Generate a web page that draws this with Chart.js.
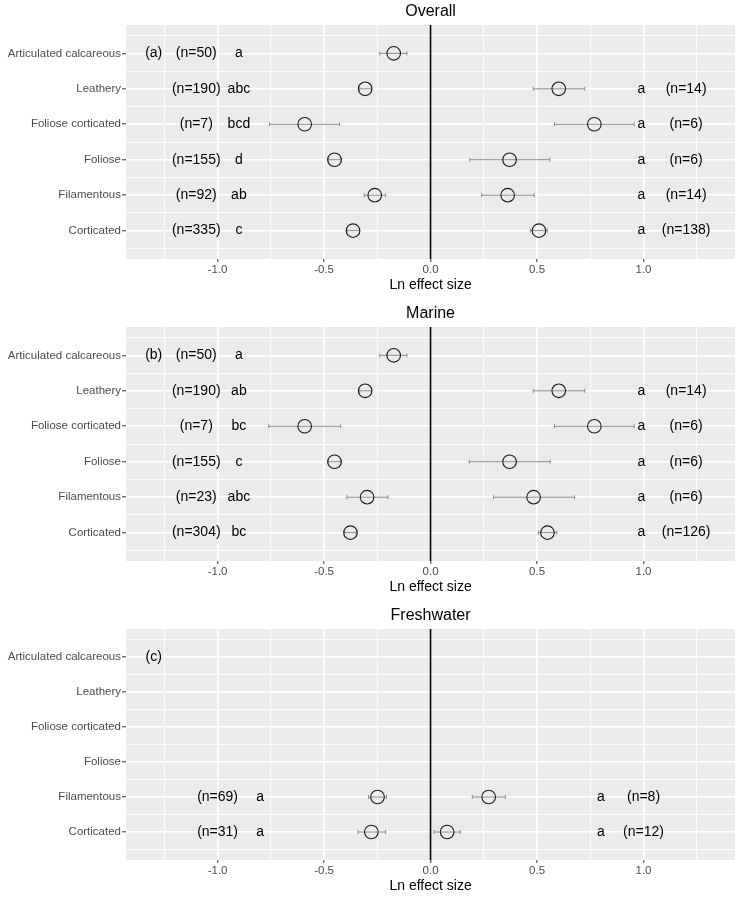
<!DOCTYPE html>
<html>
<head>
<meta charset="utf-8">
<script src="https://cdn.jsdelivr.net/npm/chart.js@4.4.1/dist/chart.umd.min.js"></script>
<style>
  body { margin: 0; background: #fff; width: 743px; height: 898px; overflow: hidden; }
  .panel { position: relative; width: 743px; }
</style>
</head>
<body>
<div class="panel" style="height:300px"><canvas id="c1"></canvas></div>
<div class="panel" style="height:300px"><canvas id="c2"></canvas></div>
<div class="panel" style="height:298px"><canvas id="c3"></canvas></div>
<script>
// categories, top to bottom
const categories = ["Articulated calcareous", "Leathery", "Foliose corticated", "Foliose", "Filamentous", "Corticated"];
const xTicks = [-1.25, -1.0, -0.75, -0.5, -0.25, 0, 0.25, 0.5, 0.75, 1.0, 1.25];

// (a) Overall
const overallNegMean = [-0.173, -0.307, -0.591, -0.451, -0.262, -0.364];
const overallNegLo   = [-0.238, -0.333, -0.756, -0.482, -0.311, -0.393];
const overallNegHi   = [-0.111, -0.278, -0.427, -0.418, -0.211, -0.333];
const overallPosMean = [null, 0.602, 0.769, 0.371, 0.362, 0.509];
const overallPosLo   = [null, 0.482, 0.582, 0.184, 0.240, 0.469];
const overallPosHi   = [null, 0.724, 0.956, 0.560, 0.487, 0.549];
const overallNegN      = ["(n=50)", "(n=190)", "(n=7)", "(n=155)", "(n=92)", "(n=335)"];
const overallNegLetter = ["a", "abc", "bcd", "d", "ab", "c"];
const overallPosLetter = [null, "a", "a", "a", "a", "a"];
const overallPosN      = [null, "(n=14)", "(n=6)", "(n=6)", "(n=14)", "(n=138)"];

// (b) Marine
const marineNegMean = [-0.173, -0.307, -0.591, -0.451, -0.298, -0.376];
const marineNegLo   = [-0.238, -0.333, -0.760, -0.482, -0.393, -0.404];
const marineNegHi   = [-0.111, -0.278, -0.422, -0.418, -0.200, -0.349];
const marinePosMean = [null, 0.602, 0.769, 0.371, 0.484, 0.549];
const marinePosLo   = [null, 0.482, 0.582, 0.182, 0.296, 0.507];
const marinePosHi   = [null, 0.724, 0.956, 0.562, 0.676, 0.593];
const marineNegN      = ["(n=50)", "(n=190)", "(n=7)", "(n=155)", "(n=23)", "(n=304)"];
const marineNegLetter = ["a", "ab", "bc", "c", "abc", "bc"];
const marinePosLetter = [null, "a", "a", "a", "a", "a"];
const marinePosN      = [null, "(n=14)", "(n=6)", "(n=6)", "(n=6)", "(n=126)"];

// (c) Freshwater
const freshNegMean = [null, null, null, null, -0.249, -0.278];
const freshNegLo   = [null, null, null, null, -0.291, -0.340];
const freshNegHi   = [null, null, null, null, -0.207, -0.211];
const freshPosMean = [null, null, null, null, 0.273, 0.078];
const freshPosLo   = [null, null, null, null, 0.196, 0.016];
const freshPosHi   = [null, null, null, null, 0.351, 0.140];
const freshNegN      = [null, null, null, null, "(n=69)", "(n=31)"];
const freshNegLetter = [null, null, null, null, "a", "a"];
const freshPosLetter = [null, null, null, null, "a", "a"];
const freshPosN      = [null, null, null, null, "(n=8)", "(n=12)"];

const FONT = "'Liberation Sans', Arial, sans-serif";
Chart.defaults.font.family = FONT;

function toPoints(means) {
  return means.map((m, i) => m === null ? null : { x: m, y: i + 1 }).filter(p => p);
}

function makePanel(id, o) {
  const isMajorX = v => Math.abs(v * 2 - Math.round(v * 2)) < 1e-6;
  const isMajorY = v => Math.abs(v - Math.round(v)) < 1e-6;

  const decor = {
    id: 'decor',
    beforeDraw(chart) {
      const { ctx, chartArea: a } = chart;
      ctx.save();
      ctx.fillStyle = '#EBEBEB';
      ctx.fillRect(a.left, a.top, a.right - a.left, a.bottom - a.top);
      ctx.restore();
    },
    beforeDatasetsDraw(chart) {
      const { ctx, chartArea: a, scales: { x, y } } = chart;
      ctx.save();
      // zero line
      ctx.strokeStyle = '#000';
      ctx.lineWidth = 1.6;
      ctx.beginPath();
      ctx.moveTo(x.getPixelForValue(0), a.top);
      ctx.lineTo(x.getPixelForValue(0), a.bottom);
      ctx.stroke();
      // error bars
      ctx.strokeStyle = '#8a8a8a';
      ctx.lineWidth = 1;
      [[o.negLo, o.negHi], [o.posLo, o.posHi]].forEach(([lo, hi]) => {
        lo.forEach((l, i) => {
          if (l === null) return;
          const py = y.getPixelForValue(i + 1);
          const x1 = x.getPixelForValue(l), x2 = x.getPixelForValue(hi[i]);
          ctx.beginPath();
          ctx.moveTo(x1, py); ctx.lineTo(x2, py);
          ctx.moveTo(x1, py - 2); ctx.lineTo(x1, py + 2);
          ctx.moveTo(x2, py - 2); ctx.lineTo(x2, py + 2);
          ctx.stroke();
        });
      });
      ctx.restore();
    },
    afterDraw(chart) {
      const { ctx, chartArea: a, scales: { x, y } } = chart;
      ctx.save();
      ctx.fillStyle = '#000';
      ctx.textAlign = 'center';
      ctx.textBaseline = 'middle';
      const mid = (a.left + a.right) / 2;
      ctx.font = '16px ' + FONT;
      ctx.fillText(o.title, mid, a.top - 13.5);
      ctx.font = '14px ' + FONT;
      ctx.fillText('Ln effect size', mid, a.bottom + 26.5);

      ctx.font = '14px ' + FONT;
      ctx.fillText(o.tag, x.getPixelForValue(-1.3), y.getPixelForValue(1));
      const cols = [[o.negN, o.lx[0]], [o.negLetter, o.lx[1]], [o.posLetter, o.lx[2]], [o.posN, o.lx[3]]];
      cols.forEach(([arr, xv]) => {
        arr.forEach((t, i) => {
          if (t) ctx.fillText(t, x.getPixelForValue(xv), y.getPixelForValue(i + 1));
        });
      });
      ctx.restore();
    }
  };

  const pointStyle = {
    pointRadius: 6.8,
    pointHoverRadius: 6.8,
    pointBorderWidth: 1.1,
    borderColor: '#1a1a1a',
    backgroundColor: 'rgba(0,0,0,0)'
  };

  new Chart(document.getElementById(id), {
    type: 'scatter',
    data: {
      datasets: [
        Object.assign({ data: toPoints(o.negMean) }, pointStyle),
        Object.assign({ data: toPoints(o.posMean) }, pointStyle)
      ]
    },
    options: {
      responsive: true,
      maintainAspectRatio: false,
      animation: false,
      events: [],
      layout: { padding: { top: o.top, right: 5, left: 0, bottom: 0 } },
      plugins: { legend: { display: false }, tooltip: { enabled: false } },
      scales: {
        x: {
          type: 'linear',
          min: -1.43,
          max: 1.43,
          afterBuildTicks: s => { s.ticks = xTicks.map(v => ({ value: v })); },
          afterFit: s => { s.height = o.below; },
          border: { display: false },
          grid: {
            color: '#FFFFFF',
            lineWidth: c => isMajorX(c.tick.value) ? 1.6 : 0.8,
            tickColor: c => isMajorX(c.tick.value) ? '#333333' : 'rgba(0,0,0,0)',
            tickWidth: 1,
            tickLength: 3
          },
          ticks: {
            autoSkip: false,
            maxRotation: 0,
            padding: 1,
            color: '#4D4D4D',
            font: { size: 11.5 },
            callback: v => isMajorX(v) ? v.toFixed(1) : ''
          }
        },
        y: {
          type: 'linear',
          min: 0.2,
          max: 6.8,
          reverse: true,
          afterBuildTicks: s => {
            const t = [];
            for (let v = 0.5; v <= 6.5; v += 0.5) t.push({ value: v });
            s.ticks = t;
          },
          afterFit: s => { s.width = 126; },
          border: { display: false },
          grid: {
            color: '#FFFFFF',
            lineWidth: c => isMajorY(c.tick.value) ? 1.6 : 0.8,
            tickColor: c => isMajorY(c.tick.value) ? '#333333' : 'rgba(0,0,0,0)',
            tickWidth: 1,
            tickLength: 4
          },
          ticks: {
            autoSkip: false,
            padding: 1,
            color: '#4D4D4D',
            font: { size: 11.5 },
            callback: v => isMajorY(v) ? categories[Math.round(v) - 1] : ''
          }
        }
      }
    },
    plugins: [decor]
  });
}

makePanel('c1', {
  title: 'Overall', tag: '(a)', top: 25, below: 41,
  negMean: overallNegMean, negLo: overallNegLo, negHi: overallNegHi,
  posMean: overallPosMean, posLo: overallPosLo, posHi: overallPosHi,
  negN: overallNegN, negLetter: overallNegLetter, posLetter: overallPosLetter, posN: overallPosN,
  lx: [-1.1, -0.9, 0.99, 1.2]
});
makePanel('c2', {
  title: 'Marine', tag: '(b)', top: 27, below: 39,
  negMean: marineNegMean, negLo: marineNegLo, negHi: marineNegHi,
  posMean: marinePosMean, posLo: marinePosLo, posHi: marinePosHi,
  negN: marineNegN, negLetter: marineNegLetter, posLetter: marinePosLetter, posN: marinePosN,
  lx: [-1.1, -0.9, 0.99, 1.2]
});
makePanel('c3', {
  title: 'Freshwater', tag: '(c)', top: 29, below: 38,
  negMean: freshNegMean, negLo: freshNegLo, negHi: freshNegHi,
  posMean: freshPosMean, posLo: freshPosLo, posHi: freshPosHi,
  negN: freshNegN, negLetter: freshNegLetter, posLetter: freshPosLetter, posN: freshPosN,
  lx: [-1.0, -0.8, 0.8, 1.0]
});
</script>
</body>
</html>
